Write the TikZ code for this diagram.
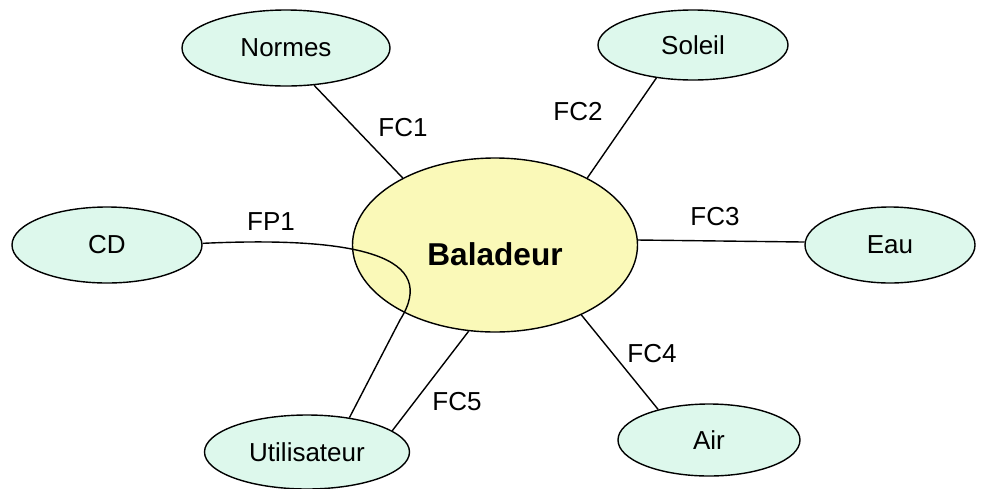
\documentclass[tikz,border=0pt]{standalone}
\usepackage{fontspec}
\setmainfont{Liberation Sans}
\usepackage{tikz}
\usetikzlibrary{shapes.geometric}
\definecolor{vertpale}{HTML}{DDF8EC}
\definecolor{jaunepale}{HTML}{FAF9B8}
\tikzset{milieu/.style={draw, ellipse, fill=vertpale, line width=0.7pt, inner sep=0pt, font=\fontsize{13}{15}\selectfont},
	fonction/.style={inner sep=0pt, font=\fontsize{13}{15}\selectfont}}
\begin{document}
\begin{tikzpicture}[x=0.5pt, y=-0.5pt, line width=0.7pt]

	\useasboundingbox (0,0) rectangle (985,488);

	\node[milieu, fill=jaunepale, minimum width=142.5pt, minimum height=87pt, font=\fontsize{15.8}{18}\selectfont\bfseries] (bal) at (495,245) {\raisebox{-4.5pt}[\height][\depth]{Baladeur}};

	\node[milieu, minimum width=104pt, minimum height=38pt] (normes) at (286,48) {Normes};
	\node[milieu, minimum width=95pt, minimum height=35pt] (soleil) at (693,45) {Soleil};
	\node[milieu, minimum width=95pt, minimum height=38pt] (cd) at (107,245) {CD};
	\node[milieu, minimum width=85pt, minimum height=38pt] (eau) at (890,245) {Eau};
	\node[milieu, minimum width=91pt, minimum height=36pt] (air) at (709,440) {Air};
	\node[milieu, minimum width=102.5pt, minimum height=37pt] (util) at (307,452) {Utilisateur};

	\draw (normes.-53) -- (bal.144);
	\draw (soleil.-138) -- (bal.36);
	\draw (bal.2) -- (eau.178);
	\draw (bal.-39) -- (air.149);
	\draw (bal.-107) -- (util.14);
	\draw (cd.1) .. controls (360,236) and (440,257) .. (400,320) -- (util.39);

	\node[fonction] (fp1) at (271,222) {FP1};
	\node[fonction] (fc1) at (403,128) {FC1};
	\node[fonction] (fc2) at (578,112) {FC2};
	\node[fonction] (fc3) at (715,217) {FC3};
	\node[fonction] (fc4) at (652,354) {FC4};
	\node[fonction] (fc5) at (457,402) {FC5};

\end{tikzpicture}
\end{document}
